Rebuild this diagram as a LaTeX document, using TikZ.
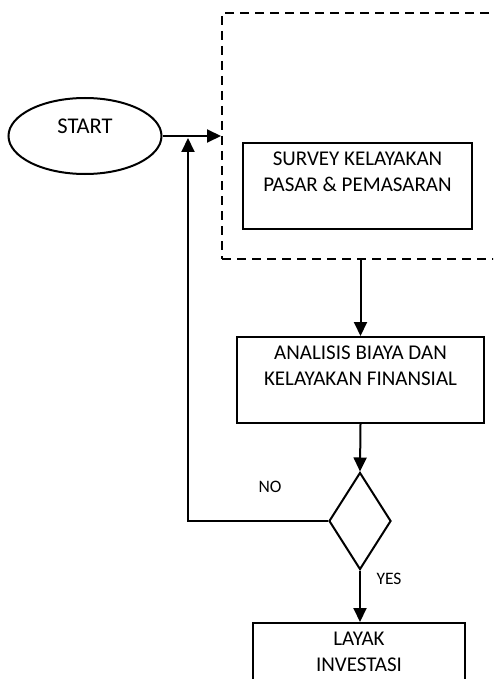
\documentclass[tikz,border=0pt]{standalone}
\usepackage{fontspec}
\setmainfont{Carlito}
\usetikzlibrary{arrows.meta,shapes.geometric,positioning}

\begin{document}
\begin{tikzpicture}[
  x = 1pt, y = -1pt,
  > = {Triangle[length=14pt,width=13pt]},
  line width = 2pt,
  proc/.style = {rectangle, draw, align=center, inner sep=0pt,
                 minimum height=86pt, font=\fontsize{21}{26}\selectfont},
  term/.style = {ellipse, draw, inner sep=0pt, minimum width=153pt,
                 minimum height=76pt, text height=14pt, text depth=19pt,
                 font=\fontsize{22.5}{26}\selectfont},
  dec/.style  = {diamond, draw, inner sep=0pt,
                 minimum width=62pt, minimum height=97pt},
  frame/.style = {rectangle, draw, dash pattern=on 9pt off 6pt,
                  minimum width=288pt, minimum height=246pt},
  lbl/.style  = {font=\fontsize{17.5}{20}\selectfont}
]
\useasboundingbox (0,0) rectangle (493,679);
\clip (0,0) rectangle (493,679);

% start
\node[term] (start) at (85,136) {START};

% market survey frame
\node[frame] (pasar) at (366,136) {};
\node[proc, minimum width=229pt] (survey) at (357.5,186)
  {\strut SURVEY KELAYAKAN\\PASAR \& PEMASARAN\\\strut};

% cost analysis
\node[proc, minimum width=247pt] (analisis) at (360.5,380)
  {\strut ANALISIS BIAYA DAN\\KELAYAKAN FINANSIAL\\\strut};

% decision
\node[dec] (decision) at (360,521) {};
\node[lbl] (no)  at (270,487) {NO};
\node[lbl] (yes) at (389,579) {YES};

% result
\node[proc, minimum width=212pt] (layak) at (359,666)
  {\strut LAYAK\\INVESTASI\\\strut};

% arrows
\coordinate (back) at (188,521);
\draw[->] (start.east) -- (pasar.west);
\draw[->] (pasar.south -| analisis.north) -- (analisis.north);
\draw[->] (analisis.south) -- (decision.north);
\draw[->] (decision.south) -- (decision.south |- layak.north);
\draw[->, shorten >=2pt] (decision.west) -- (back) -- (back |- start.east);
\end{tikzpicture}
\end{document}
